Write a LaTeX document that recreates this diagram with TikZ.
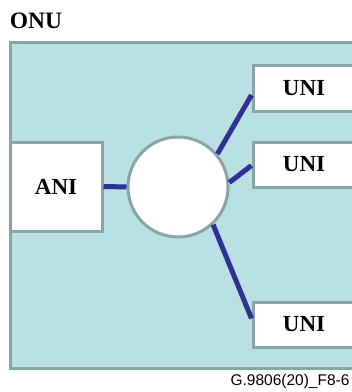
\documentclass[tikz,border=0pt]{standalone}
\usepackage{fontspec}
\setmainfont{Liberation Serif}
\newfontfamily\capfont{Liberation Sans}
\usetikzlibrary{positioning}

\definecolor{onufill}{RGB}{185,224,227}
\definecolor{onuedge}{RGB}{135,165,163}
\definecolor{linkblue}{RGB}{48,48,150}

\begin{document}
\begin{tikzpicture}[x=1pt,y=-1pt,
		port/.style={draw=onuedge, line width=3pt, fill=white, rectangle,
			font=\fontsize{23}{25}\selectfont\bfseries},
		link/.style={draw=linkblue, line width=5pt}]
		\useasboundingbox (0,0) rectangle (352,392);
		\clip (0,0) rectangle (352,392);

		\node (onu) [draw=onuedge, line width=3pt, fill=onufill, rectangle,
			minimum width=348pt, minimum height=326pt] at (184,205) {};
		\node (onulabel) [font=\fontsize{23.5}{25}\selectfont\bfseries] at (36,21) {ONU};

		\node (ani) [port, minimum width=92pt, minimum height=89pt] at (56,186.5) {ANI};
		\node (hub) [draw=onuedge, line width=3pt, fill=white, circle,
			minimum size=100pt] at (178,187) {};
		\node (uni1) [port, minimum width=102pt, minimum height=46pt] at (304,88) {UNI};
		\node (uni2) [port, minimum width=102pt, minimum height=45pt] at (304,164.5) {UNI};
		\node (uni3) [port, minimum width=102pt, minimum height=45pt] at (304,324.5) {UNI};

		\draw [link] (ani) to (hub);
		\draw [link] (hub.40) to ([yshift=-7pt]uni1.west);
		\draw [link] (hub.5) to ([yshift=-1pt]uni2.west);
		\draw [link] (hub.-47) to ([yshift=6pt]uni3.west);

		\node (caption) [font=\capfont\fontsize{15.5}{17}\selectfont, anchor=south east]
			at (353,392) {G.9806(20)\_F8-6};
		\end{tikzpicture}
\end{document}
